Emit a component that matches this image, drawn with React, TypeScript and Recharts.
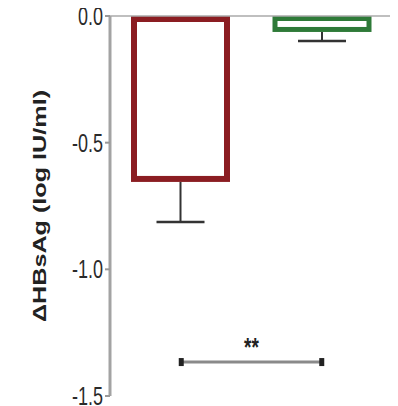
import React from 'react';
import { BarChart, Bar, XAxis, YAxis, ReferenceLine, Label } from 'recharts';

const groups = ['Group 1', 'Group 2'];
const means = [-0.655, -0.063];
const errs = [0.158, 0.036];
const colors = ['#8b1d22', '#2e7a38'];
const strokeWidths = [6, 5];
const yTicks = [0, -0.5, -1.0, -1.5];
const sigY = -1.366;
const sigLabel = '**';
const yLabel = 'ΔHBsAg (log IU/ml)';

const data = groups.map((g, i) => ({ group: g, mean: means[i], err: errs[i], idx: i }));

const BarShape = (props: any) => {
  const { x, y, width, height, payload } = props;
  const i = payload.idx;
  const sw = strokeWidths[i];
  const top = Math.min(y, y + height);
  const h = Math.abs(height);
  const ppu = h / Math.abs(payload.mean);
  const bottom = top + h;
  const errEnd = bottom + payload.err * ppu;
  const cx = x + width / 2;
  return (
    <g>
      <line x1={cx} y1={bottom} x2={cx} y2={errEnd} stroke="#333" strokeWidth={2} />
      <line x1={cx - 24} y1={errEnd} x2={cx + 24} y2={errEnd} stroke="#333" strokeWidth={2.5} />
      <rect x={x + sw / 2} y={top + sw / 2} width={width - sw} height={Math.max(h - sw, 0)} fill="#fff" stroke={colors[i]} strokeWidth={sw} />
    </g>
  );
};

const YTick = (props: any) => {
  const { x, y, payload } = props;
  return (
    <g transform={`translate(${x},${y}) scale(1,1.4)`}>
      <text x={0} y={0} dy="0.36em" textAnchor="end" fontFamily="Liberation Sans, Arial, sans-serif" fontSize={18} fill="#2a2a2a">
        {payload.value.toFixed(1)}
      </text>
    </g>
  );
};

const Bracket = (props: any) => {
  const { x1, y1, x2 } = props;
  const y = y1;
  return (
    <g>
      <line x1={x1} y1={y} x2={x2} y2={y} stroke="#8a8a8a" strokeWidth={3} />
      <rect x={x1 - 2} y={y - 4} width={5} height={8} fill="#222" />
      <rect x={x2 - 3} y={y - 4} width={5} height={8} fill="#222" />
      <g transform={`translate(${(x1 + x2) / 2},${y - 6}) scale(1,1.4)`}>
        <text x={0} y={0} textAnchor="middle" fontFamily="Liberation Sans, Arial, sans-serif" fontWeight="bold" fontSize={19} fill="#222">
          {sigLabel}
        </text>
      </g>
    </g>
  );
};

export default function App() {
  return (
    <BarChart width={390} height={398} data={data} margin={{ top: 8, right: 5, bottom: 10, left: 42 }}>
      <XAxis dataKey="group" hide />
      <YAxis
        width={60}
        domain={[-1.5, 0]}
        ticks={yTicks}
        interval={0}
        axisLine={{ stroke: '#a3a3a3', strokeWidth: 3 }}
        tickLine={{ stroke: '#999', strokeWidth: 2 }}
        tickSize={5}
        tickMargin={2}
        tick={<YTick />}
      >
        <Label
          content={(p: any) => {
            const vb = p.viewBox || { x: 42, y: 8, height: 380 };
            const cx = vb.x - 4;
            const cy = vb.y + vb.height / 2;
            return (
              <g transform={`translate(${cx},${cy}) rotate(-90) scale(1.4,1)`}>
                <text x={0} y={0} textAnchor="middle" fontFamily="Liberation Sans, Arial, sans-serif" fontWeight="bold" fontSize={18} fill="#222">
                  {yLabel}
                </text>
              </g>
            );
          }}
        />
      </YAxis>
      <ReferenceLine y={0} stroke="#aaa" strokeWidth={1.5} />
      <Bar dataKey="mean" barSize={99} shape={<BarShape />} isAnimationActive={false} />
      <ReferenceLine
        segment={[{ x: groups[0], y: sigY }, { x: groups[1], y: sigY }]}
        shape={<Bracket />}
      />
    </BarChart>
  );
}
